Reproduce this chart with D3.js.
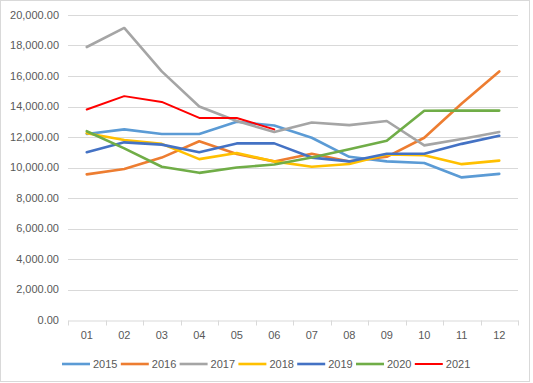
<!DOCTYPE html>
<html>
<head>
<meta charset="utf-8">
<script src="https://cdn.jsdelivr.net/npm/d3@7"></script>
<style>
  body { margin: 0; background: #fff; }
  text { font-family: "Liberation Sans", Arial, sans-serif; }
</style>
</head>
<body>
<div id="chart-area"></div>
<script>
const months = ["01", "02", "03", "04", "05", "06", "07", "08", "09", "10", "11", "12"]
const yTicks = [0, 2000, 4000, 6000, 8000, 10000, 12000, 14000, 16000, 18000, 20000]

const s2015 = [12200, 12500, 12200, 12200, 13000, 12750, 11950, 10700, 10400, 10300, 9350, 9580]
const s2016 = [9550, 9900, 10650, 11720, 10880, 10400, 10900, 10400, 10700, 11950, 14200, 16300]
const s2017 = [17900, 19150, 16300, 14000, 13050, 12330, 12950, 12780, 13050, 11450, 11870, 12330]
const s2018 = [12250, 11800, 11550, 10550, 10950, 10400, 10050, 10230, 10850, 10800, 10220, 10450]
const s2019 = [11000, 11650, 11500, 11000, 11580, 11580, 10650, 10400, 10900, 10900, 11550, 12080]
const s2020 = [12380, 11250, 10050, 9650, 10000, 10200, 10650, 11200, 11750, 13720, 13730, 13730]
const s2021 = [13800, 14680, 14300, 13250, 13250, 12500]

const seriesNames = ["2015", "2016", "2017", "2018", "2019", "2020", "2021"]
const seriesValues = [s2015, s2016, s2017, s2018, s2019, s2020, s2021]
const colors = ["#5B9BD5", "#ED7D31", "#A5A5A5", "#FFC000", "#4472C4", "#70AD47", "#FF0000"]
const widths = [2.6, 2.6, 2.6, 2.6, 2.6, 2.6, 2]

const W = 533, H = 383
const MARGIN = { LEFT: 68, RIGHT: 15, TOP: 15, BOTTOM: 63 }
const WIDTH = W - MARGIN.LEFT - MARGIN.RIGHT
const HEIGHT = H - MARGIN.TOP - MARGIN.BOTTOM

const svg = d3.select("#chart-area").append("svg")
  .attr("width", W)
  .attr("height", H)

// chart border
svg.append("rect")
  .attr("x", 0.5).attr("y", 0.5)
  .attr("width", 529).attr("height", 381)
  .attr("fill", "#fff")
  .attr("stroke", "#d9d9d9")

const g = svg.append("g")
  .attr("transform", `translate(${MARGIN.LEFT}, ${MARGIN.TOP})`)

const x = d3.scaleBand()
  .domain(months)
  .range([0, WIDTH])

const y = d3.scaleLinear()
  .domain([0, 20000])
  .range([HEIGHT, 0])

// gridlines
g.append("g")
  .selectAll("line")
  .data(yTicks.slice(1))
  .enter().append("line")
    .attr("x1", 0)
    .attr("x2", WIDTH)
    .attr("y1", d => Math.round(y(d)) + 0.5)
    .attr("y2", d => Math.round(y(d)) + 0.5)
    .attr("stroke", "#d9d9d9")

// Y axis labels
const fmt = d3.format(",.2f")
g.append("g")
  .selectAll("text")
  .data(yTicks)
  .enter().append("text")
    .attr("x", -9)
    .attr("y", d => y(d))
    .attr("dy", "0.35em")
    .attr("text-anchor", "end")
    .attr("font-size", "11px")
    .attr("fill", "#595959")
    .text(d => fmt(d))

// X axis
const xAxisCall = d3.axisBottom(x).tickSize(0).tickPadding(11)
const xAxisGroup = g.append("g")
  .attr("transform", `translate(0, ${Math.round(HEIGHT) + 0.5})`)
  .call(xAxisCall)
xAxisGroup.select(".domain").attr("stroke", "#d9d9d9")
xAxisGroup.selectAll("text")
  .attr("font-size", "11px")
  .attr("font-family", "Liberation Sans, Arial, sans-serif")
  .attr("fill", "#595959")

// category boundary ticks
const bounds = months.map(m => x(m)).concat([WIDTH])
xAxisGroup.selectAll(".bound")
  .data(bounds)
  .enter().append("line")
    .attr("class", "bound")
    .attr("x1", d => Math.round(d) + 0.5)
    .attr("x2", d => Math.round(d) + 0.5)
    .attr("y1", 0)
    .attr("y2", 5)
    .attr("stroke", "#d9d9d9")

// lines
const line = d3.line()
  .x((d, i) => x(months[i]) + x.bandwidth() / 2)
  .y(d => y(d))

g.append("g")
  .selectAll("path")
  .data(seriesValues)
  .enter().append("path")
    .attr("d", d => line(d))
    .attr("fill", "none")
    .attr("stroke", (d, i) => colors[i])
    .attr("stroke-width", (d, i) => widths[i])
    .attr("stroke-linejoin", "round")
    .attr("stroke-linecap", "round")

// legend
const legend = svg.append("g")
  .attr("transform", "translate(62, 364)")

const items = legend.selectAll("g")
  .data(seriesNames)
  .enter().append("g")
    .attr("transform", (d, i) => `translate(${i * 58.8}, 0)`)

items.append("line")
  .attr("x1", 0).attr("x2", 28)
  .attr("y1", 0).attr("y2", 0)
  .attr("stroke", (d, i) => colors[i])
  .attr("stroke-width", (d, i) => widths[i])

items.append("text")
  .attr("x", 31)
  .attr("y", 0)
  .attr("dy", "0.35em")
  .attr("font-size", "11px")
  .attr("fill", "#595959")
  .text(d => d)
</script>
</body>
</html>
